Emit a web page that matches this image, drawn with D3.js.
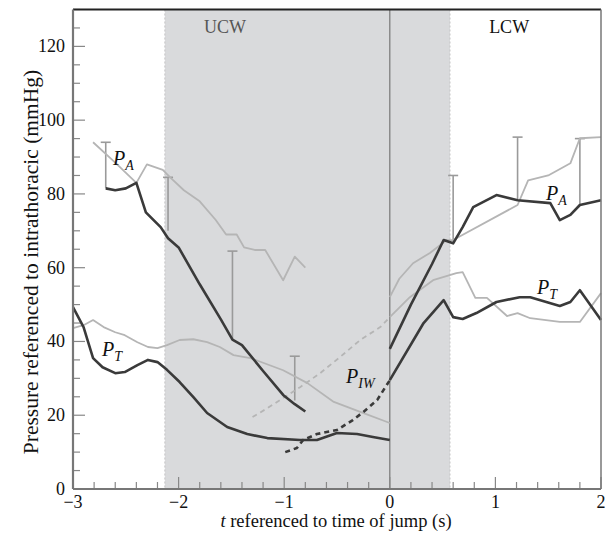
<!DOCTYPE html>
<html>
<head>
<script src="https://d3js.org/d3.v7.min.js"></script>
<style>
  body { margin: 0; background: #fff; }
  svg { font-family: "Liberation Serif", "DejaVu Serif", serif; }
  .tick-label { font-size: 18px; fill: #111; }
  .axis-title { font-size: 18.5px; fill: #111; }
  .curve-label { font-size: 20px; font-style: italic; fill: #111; }
  .curve-label tspan.sub { font-size: 14px; }
</style>
</head>
<body>
<div id="chart"></div>
<script>
// time (s) and pressure (mmHg)
const paDarkPreT  = [-2.69, -2.60, -2.50, -2.40, -2.31, -2.17, -2.10, -2.00, -1.80, -1.60, -1.49, -1.40, -1.20, -1.01, -0.90, -0.80];
const paDarkPre   = [81.5, 81, 81.5, 83, 75, 71, 68, 65.5, 55.5, 46, 40.5, 39, 32, 25.5, 23, 21];
const paLightPreT = [-2.81, -2.60, -2.40, -2.30, -2.15, -2.08, -1.95, -1.80, -1.65, -1.55, -1.45, -1.38, -1.28, -1.18, -1.01, -0.90, -0.80];
const paLightPre  = [94, 88.5, 83, 88, 86.5, 84.5, 81, 78, 73, 69, 69, 65.5, 64.8, 64.8, 56.6, 63, 60];

const ptDarkPreT  = [-3, -2.90, -2.81, -2.72, -2.60, -2.51, -2.39, -2.29, -2.20, -2.11, -1.99, -1.86, -1.73, -1.54, -1.35, -1.16, -0.85, -0.69, -0.50, -0.31, -0.16, 0];
const ptDarkPre   = [49.3, 43.9, 35.5, 33, 31.4, 31.7, 33.6, 35, 34.4, 32.3, 29, 24.9, 20.6, 16.8, 14.9, 13.8, 13.3, 13.3, 15.2, 14.9, 14.1, 13.3];
const ptLightPreT = [-3, -2.90, -2.81, -2.71, -2.60, -2.51, -2.39, -2.29, -2.20, -2.11, -1.99, -1.86, -1.73, -1.61, -1.48, -1.32, -1.01, -0.78, -0.53, -0.28, 0];
const ptLightPre  = [43.6, 44.4, 45.8, 43.9, 42.5, 41.7, 39.8, 38.5, 38.2, 39, 40.4, 40.6, 39.8, 38.5, 36.3, 35.5, 32.2, 28.7, 23.6, 20.9, 17.9];

const piwLightT = [-1.30, -1.16, -1.04, -0.85, -0.66, -0.47, -0.28, -0.09, 0];
const piwLight  = [19.5, 21.9, 24.1, 27.6, 31.4, 35.8, 40.4, 43.9, 46.6];
const piwDarkT  = [-0.99, -0.88, -0.82, -0.69, -0.50, -0.35, -0.25, -0.12, 0];
const piwDark   = [10, 11.1, 13.3, 14.9, 16, 18.7, 20.9, 24.1, 29.5];

const paDarkPostT  = [0, 0.2, 0.4, 0.51, 0.60, 0.69, 0.79, 1.01, 1.21, 1.52, 1.61, 1.71, 1.80, 2.0];
const paDarkPost   = [38, 50, 61, 67.5, 66.6, 71, 76.4, 79.7, 78.3, 77.5, 72.9, 74.3, 77, 78.3];
const paLightPostT = [0, 0.09, 0.22, 0.38, 0.54, 0.60, 1.21, 1.31, 1.50, 1.71, 1.80, 2.0];
const paLightPost  = [52, 57, 61.2, 64, 67.5, 67.5, 77, 83.7, 85, 88.3, 95.1, 95.4];

const ptDarkPostT  = [0, 0.32, 0.51, 0.60, 0.69, 0.82, 1.01, 1.23, 1.33, 1.61, 1.71, 1.80, 2.0];
const ptDarkPost   = [29.5, 45, 51.2, 46.6, 46.1, 47.7, 50.7, 52, 52, 49.6, 50.7, 53.9, 45.8];
const ptLightPostT = [0, 0.19, 0.41, 0.63, 0.69, 0.81, 0.92, 1.11, 1.21, 1.33, 1.61, 1.80, 2.0];
const ptLightPost  = [46.6, 52, 56.6, 58.5, 58.8, 51.8, 51.8, 46.9, 47.7, 46.3, 45.3, 45.3, 53.1];

// error bars
const errT    = [-2.69, -2.10, -1.49, -0.90, 0.60, 1.21, 1.80];
const errLow  = [81.5, 70, 40.5, 24, 66.6, 78.3, 77];
const errHigh = [94, 84.5, 64.5, 36, 85, 95.4, 95];

// shaded phases
const ucwRange = [-2.13, 0.57];

const xTicks = [-3, -2, -1, 0, 1, 2];
const yTicks = [0, 20, 40, 60, 80, 100, 120];

const W = 607, H = 537;
const margin = { top: 9.5, right: 6, bottom: 48, left: 73 };
const width = W - margin.left - margin.right;
const height = H - margin.top - margin.bottom;

const svg = d3.select("#chart").append("svg")
  .attr("width", W).attr("height", H);
const g = svg.append("g")
  .attr("transform", `translate(${margin.left},${margin.top})`);

const x = d3.scaleLinear().domain([-3, 2]).range([0, width]);
const y = d3.scaleLinear().domain([0, 130]).range([height, 0]);

// shading
g.append("rect")
  .attr("x", x(ucwRange[0])).attr("y", 0)
  .attr("width", x(ucwRange[1]) - x(ucwRange[0])).attr("height", height)
  .attr("fill", "#d9dadc");
ucwRange.forEach(t => {
  g.append("line")
    .attr("x1", x(t)).attr("x2", x(t)).attr("y1", 0).attr("y2", height)
    .attr("stroke", "#c4c4c4").attr("stroke-width", 1)
    .attr("stroke-dasharray", "2,2");
});
// time of jump
g.append("line")
  .attr("x1", x(0)).attr("x2", x(0)).attr("y1", 0).attr("y2", height)
  .attr("stroke", "#777").attr("stroke-width", 1.2);

g.append("text").attr("x", x(-1.56)).attr("y", 33 - margin.top)
  .attr("text-anchor", "middle").attr("font-size", 18).attr("fill", "#555").text("UCW");
g.append("text").attr("x", x(1.13)).attr("y", 33 - margin.top)
  .attr("text-anchor", "middle").attr("font-size", 18).attr("fill", "#111").text("LCW");

// ticks (inside)
const xMinor = d3.range(-3, 2.001, 0.2).map(v => +v.toFixed(1));
const yMinor = d3.range(0, 130.1, 5);
g.selectAll(".xtick").data(xMinor).enter().append("line")
  .attr("x1", d => x(d)).attr("x2", d => x(d))
  .attr("y1", height)
  .attr("y2", d => height - (xTicks.includes(d) ? 12 : 7))
  .attr("stroke", "#888").attr("stroke-width", 1.2);
g.selectAll(".ytick").data(yMinor).enter().append("line")
  .attr("y1", d => y(d)).attr("y2", d => y(d))
  .attr("x1", 0)
  .attr("x2", d => (yTicks.includes(d) ? 12 : 7))
  .attr("stroke", "#888").attr("stroke-width", 1.2);

const line = d3.line().x(d => x(d[0])).y(d => y(d[1]));
const zip = (ts, vs) => ts.map((t, i) => [t, vs[i]]);

function draw(ts, vs, color, w, dash) {
  g.append("path").datum(zip(ts, vs))
    .attr("d", line).attr("fill", "none")
    .attr("stroke", color).attr("stroke-width", w)
    .attr("stroke-linejoin", "round")
    .attr("stroke-dasharray", dash || null);
}

const light = "#b5b5b5", dark = "#3a3a3a";

// error bars
errT.forEach((t, i) => {
  g.append("line")
    .attr("x1", x(t)).attr("x2", x(t))
    .attr("y1", y(errLow[i])).attr("y2", y(errHigh[i]))
    .attr("stroke", "#9a9a9a").attr("stroke-width", 1.6);
  g.append("line")
    .attr("x1", x(t) - 5).attr("x2", x(t) + 5)
    .attr("y1", y(errHigh[i])).attr("y2", y(errHigh[i]))
    .attr("stroke", "#9a9a9a").attr("stroke-width", 1.6);
});

draw(paLightPreT, paLightPre, light, 1.8);
draw(ptLightPreT, ptLightPre, light, 1.8);
draw(paLightPostT, paLightPost, light, 1.8);
draw(ptLightPostT, ptLightPost, light, 1.8);
draw(piwLightT, piwLight, light, 1.8, "5,4");

draw(paDarkPreT, paDarkPre, dark, 2.6);
draw(ptDarkPreT, ptDarkPre, dark, 2.6);
draw(paDarkPostT, paDarkPost, dark, 2.6);
draw(ptDarkPostT, ptDarkPost, dark, 2.6);
draw(piwDarkT, piwDark, dark, 2.6, "5,4");

// frame
g.append("line").attr("x1", 0).attr("x2", width).attr("y1", 0).attr("y2", 0)
  .attr("stroke", "#222").attr("stroke-width", 2);
g.append("line").attr("x1", width).attr("x2", width).attr("y1", 0).attr("y2", height)
  .attr("stroke", "#777").attr("stroke-width", 1.5);
g.append("line").attr("x1", 0).attr("x2", 0).attr("y1", 0).attr("y2", height)
  .attr("stroke", "#777").attr("stroke-width", 2.2);
g.append("line").attr("x1", 0).attr("x2", width).attr("y1", height).attr("y2", height)
  .attr("stroke", "#777").attr("stroke-width", 2);

// tick labels
g.selectAll(".xl").data(xTicks).enter().append("text")
  .attr("class", "tick-label")
  .attr("x", d => x(d)).attr("y", height + 19)
  .attr("text-anchor", "middle")
  .text(d => d < 0 ? "\u2212" + Math.abs(d) : d);
g.selectAll(".yl").data(yTicks).enter().append("text")
  .attr("class", "tick-label")
  .attr("x", -8).attr("y", d => y(d) + 6)
  .attr("text-anchor", "end")
  .text(d => d);

// axis titles
const xt = svg.append("text").attr("class", "axis-title")
  .attr("x", 336).attr("y", 527).attr("text-anchor", "middle");
xt.append("tspan").attr("font-style", "italic").text("t");
xt.append("tspan").text(" referenced to time of jump (s)");

svg.append("text").attr("class", "axis-title")
  .style("font-size", "21.5px")
  .attr("transform", "translate(38,262) rotate(-90)")
  .attr("text-anchor", "middle")
  .text("Pressure referenced to intrathoracic (mmHg)");

// curve labels
function label(px, py, main, sub) {
  const t = svg.append("text").attr("class", "curve-label").attr("x", px).attr("y", py);
  t.append("tspan").text(main);
  t.append("tspan").attr("class", "sub").attr("dy", 5).text(sub);
}
label(113, 165, "P", "A");
label(546, 200, "P", "A");
label(102, 356, "P", "T");
label(537, 294, "P", "T");
label(346, 383, "P", "IW");
</script>
</body>
</html>
